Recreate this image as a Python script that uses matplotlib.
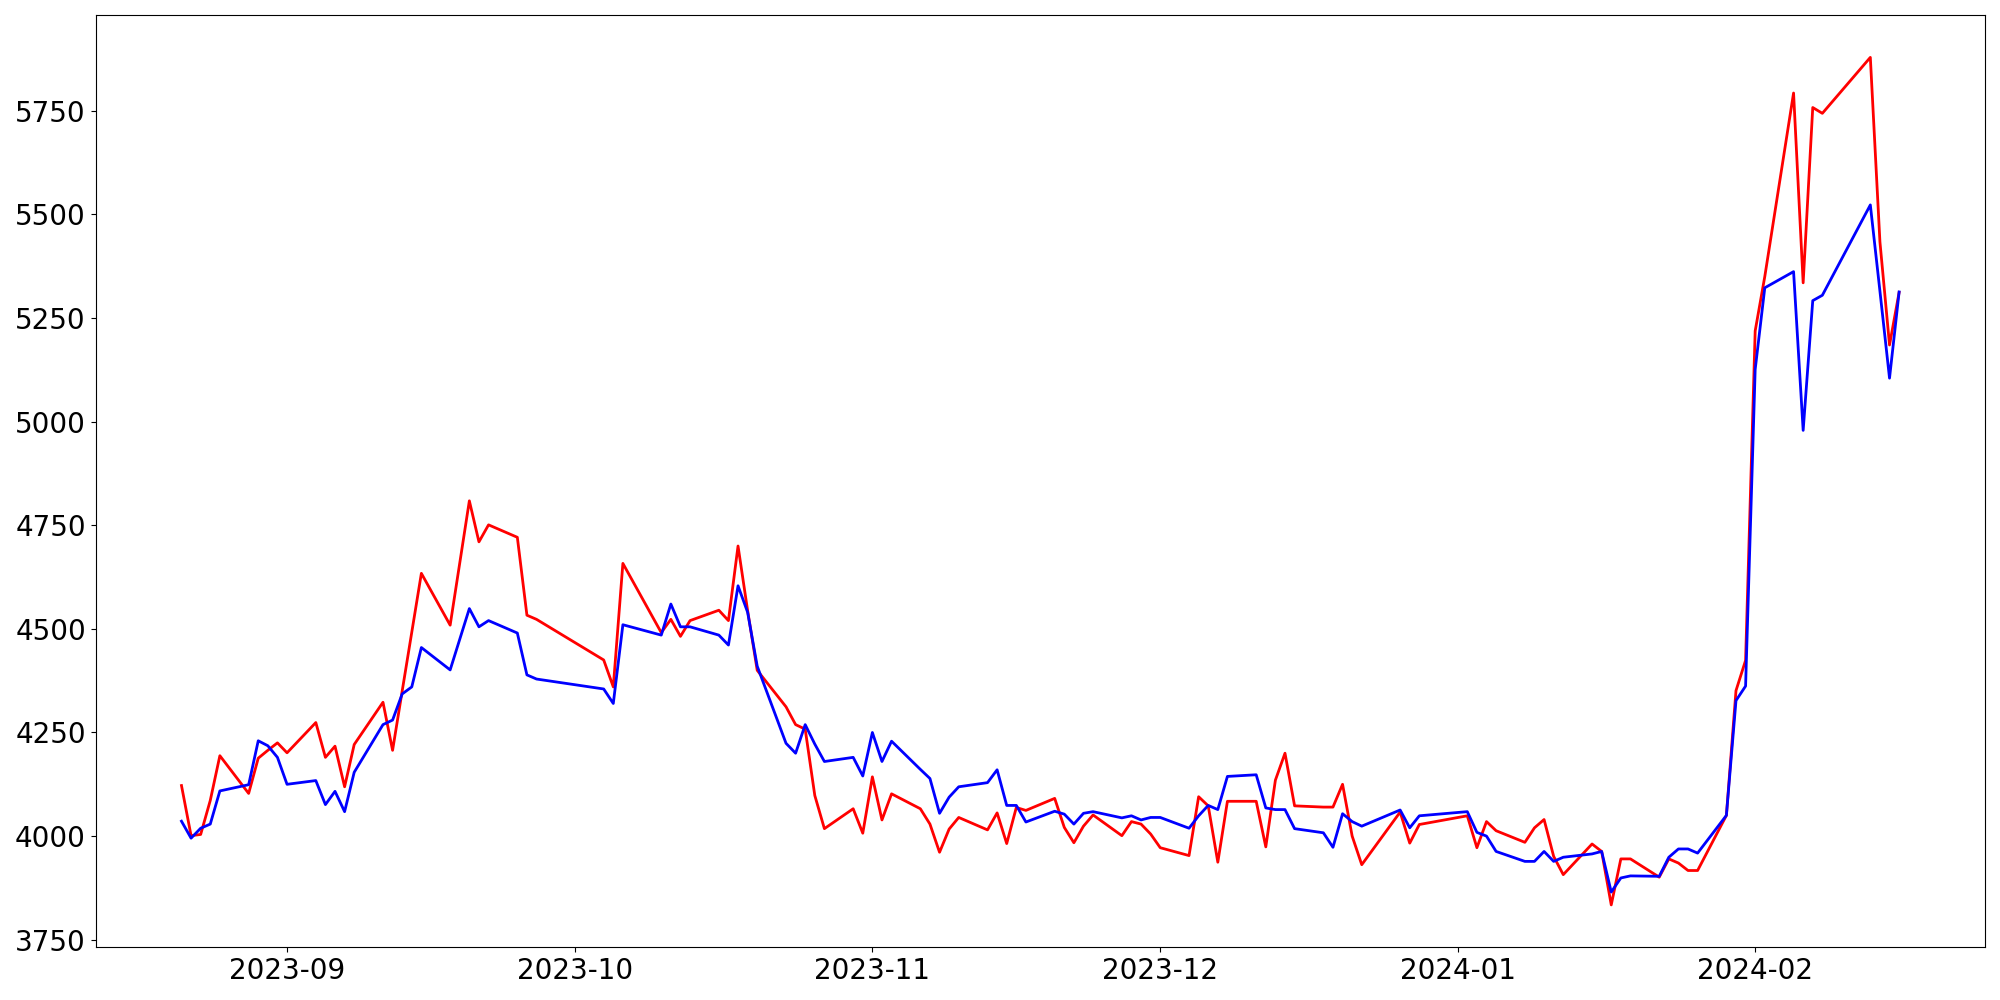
import numpy as np
import pandas as pd
import matplotlib
matplotlib.use("Agg")
import matplotlib.pyplot as plt

# trading days
dates = [
    "2023-08-21", "2023-08-22", "2023-08-23", "2023-08-24", "2023-08-25",
    "2023-08-28", "2023-08-29", "2023-08-30", "2023-08-31", "2023-09-01",
    "2023-09-04", "2023-09-05", "2023-09-06", "2023-09-07", "2023-09-08",
    "2023-09-11", "2023-09-12", "2023-09-13", "2023-09-14", "2023-09-15",
    "2023-09-18", "2023-09-20", "2023-09-21", "2023-09-22",
    "2023-09-25", "2023-09-26", "2023-09-27",
    "2023-10-04", "2023-10-05", "2023-10-06",
    "2023-10-10", "2023-10-11", "2023-10-12", "2023-10-13",
    "2023-10-16", "2023-10-17", "2023-10-18", "2023-10-19", "2023-10-20",
    "2023-10-23", "2023-10-24", "2023-10-25", "2023-10-26", "2023-10-27",
    "2023-10-30", "2023-10-31", "2023-11-01", "2023-11-02", "2023-11-03",
    "2023-11-06", "2023-11-07", "2023-11-08", "2023-11-09", "2023-11-10",
    "2023-11-13", "2023-11-14", "2023-11-15", "2023-11-16", "2023-11-17",
    "2023-11-20", "2023-11-21", "2023-11-22", "2023-11-23", "2023-11-24",
    "2023-11-27", "2023-11-28", "2023-11-29", "2023-11-30", "2023-12-01",
    "2023-12-04", "2023-12-05", "2023-12-06", "2023-12-07", "2023-12-08",
    "2023-12-11", "2023-12-12", "2023-12-13", "2023-12-14", "2023-12-15",
    "2023-12-18", "2023-12-19", "2023-12-20", "2023-12-21", "2023-12-22",
    "2023-12-26", "2023-12-27", "2023-12-28",
    "2024-01-02", "2024-01-03", "2024-01-04", "2024-01-05",
    "2024-01-08", "2024-01-09", "2024-01-10", "2024-01-11", "2024-01-12",
    "2024-01-15", "2024-01-16", "2024-01-17", "2024-01-18", "2024-01-19",
    "2024-01-22", "2024-01-23", "2024-01-24", "2024-01-25", "2024-01-26",
    "2024-01-29", "2024-01-30", "2024-01-31", "2024-02-01", "2024-02-02",
    "2024-02-05", "2024-02-06", "2024-02-07", "2024-02-08",
    "2024-02-13", "2024-02-14", "2024-02-15", "2024-02-16",
]

red_values = [
    4122, 4001, 4004, 4086, 4194,
    4103, 4188, 4207, 4225, 4201,
    4274, 4190, 4217, 4119, 4221,
    4323, 4207, 4350, 4492, 4634,
    4509, 4809, 4710, 4751,
    4721, 4533, 4523,
    4425, 4360, 4658,
    4491, 4523, 4482, 4520,
    4545, 4520, 4700, 4544, 4400,
    4312, 4269, 4258, 4098, 4018,
    4066, 4007, 4143, 4039, 4102,
    4066, 4029, 3961, 4017, 4045,
    4015, 4056, 3982, 4069, 4062,
    4091, 4021, 3984, 4024, 4051,
    4001, 4035, 4029, 4005, 3972,
    3953, 4095, 4073, 3937, 4084,
    4084, 3974, 4135, 4200, 4073,
    4070, 4070, 4125, 4000, 3931,
    4058, 3983, 4028,
    4049, 3972, 4035, 4013,
    3985, 4020, 4040, 3951, 3907,
    3981, 3963, 3834, 3945, 3945,
    3901, 3945, 3935, 3917, 3917,
    4050, 4351, 4424, 5219, 5350,
    5793, 5335, 5758, 5744,
    5879, 5434, 5185, 5312,
]

blue_values = [
    4036, 3995, 4019, 4029, 4109,
    4124, 4230, 4218, 4190, 4125,
    4134, 4076, 4108, 4059, 4154,
    4269, 4280, 4343, 4360, 4455,
    4401, 4549, 4505, 4520,
    4490, 4389, 4379,
    4355, 4320, 4510,
    4485, 4560, 4505, 4505,
    4485, 4461, 4604, 4540, 4410,
    4224, 4200, 4269, 4222, 4180,
    4190, 4145, 4250, 4180, 4229,
    4161, 4139, 4055, 4094, 4119,
    4129, 4160, 4074, 4074, 4034,
    4060, 4053, 4029, 4055, 4059,
    4044, 4049, 4039, 4045, 4045,
    4019, 4049, 4074, 4064, 4144,
    4148, 4068, 4064, 4064, 4018,
    4008, 3973, 4054, 4035, 4024,
    4063, 4020, 4049,
    4059, 4009, 4000, 3963,
    3939, 3939, 3963, 3939, 3949,
    3957, 3963, 3865, 3899, 3904,
    3903, 3949, 3969, 3969, 3959,
    4050, 4327, 4362, 5126, 5323,
    5362, 4979, 5292, 5305,
    5523, 5315, 5105, 5313,
]

x = pd.to_datetime(dates)

fig, ax = plt.subplots(figsize=(20, 10), dpi=100)
ax.plot(x, red_values, color='red', linewidth=2)
ax.plot(x, blue_values, color='blue', linewidth=2)
ax.tick_params(labelsize=20)

plt.tight_layout()
plt.savefig("out.png")
